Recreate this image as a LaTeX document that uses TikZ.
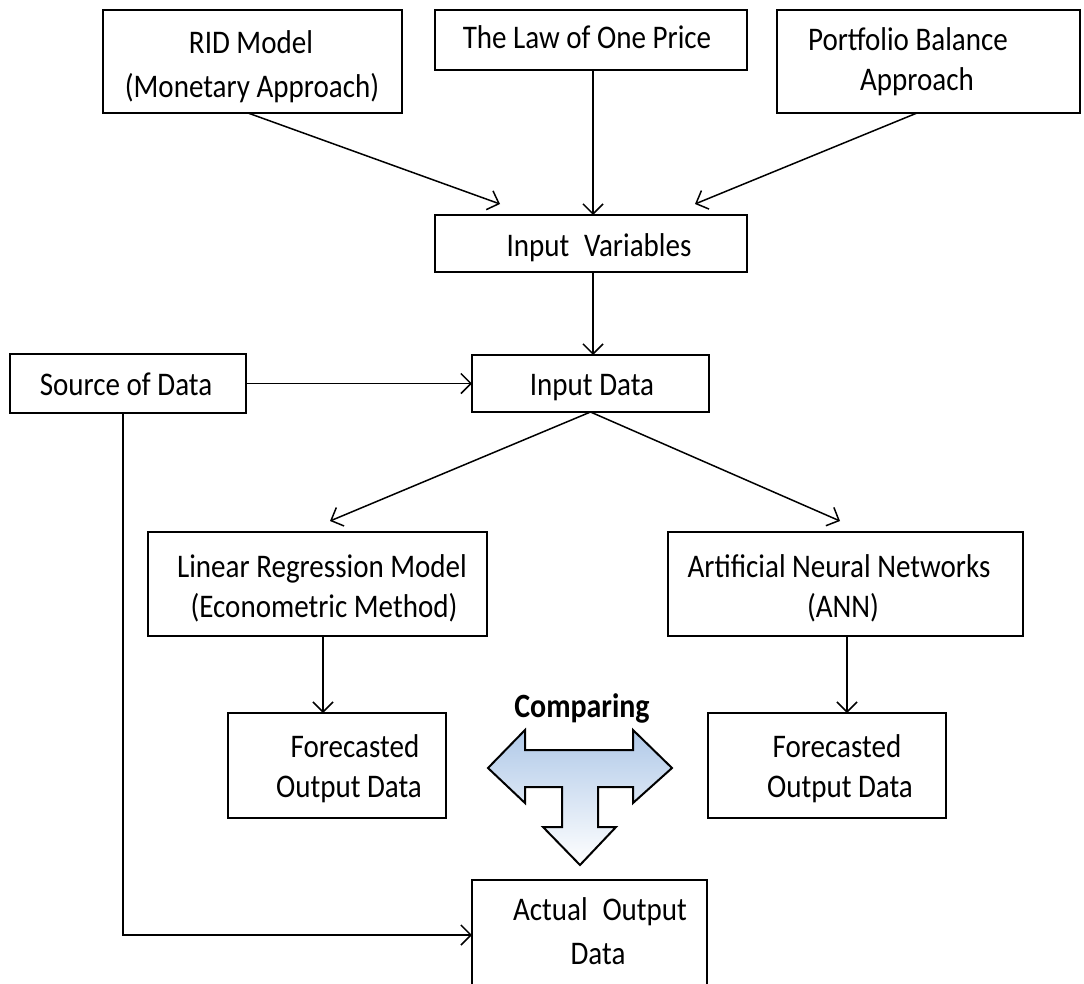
\documentclass[tikz,border=0pt]{standalone}
\usepackage{fontspec}
\setmainfont{Carlito}[FakeStretch=0.88]
\usetikzlibrary{arrows.meta,calc}
\begin{document}
\begin{tikzpicture}[x=1pt,y=-1pt,
  box/.style={draw=black,line width=2pt,fill=white,inner sep=0pt,outer sep=0pt},
  lbl/.style={font=\fontsize{33}{40}\selectfont,align=center,inner sep=0pt,anchor=base},
  arr/.style={draw=black,line width=1.5pt,-{Straight Barb[length=10pt,width=20pt,line width=1.5pt]}}]
\useasboundingbox[fill=white] (0,0) rectangle (1084,983);
% boxes
\node[box,minimum width=299pt,minimum height=103pt] (rid) at (252.5,61.5) {};
\node[box,minimum width=312pt,minimum height=60pt] (law) at (591,40) {};
\node[box,minimum width=303pt,minimum height=103pt] (pb) at (928.5,61.5) {};
\node[box,minimum width=312pt,minimum height=57pt] (iv) at (591,243.5) {};
\node[box,minimum width=236pt,minimum height=59pt] (src) at (128,383.5) {};
\node[box,minimum width=237pt,minimum height=57pt] (ind) at (590.5,383.5) {};
\node[box,minimum width=339pt,minimum height=104pt] (lr) at (317.5,584) {};
\node[box,minimum width=355pt,minimum height=104pt] (ann) at (845.5,584) {};
\node[box,minimum width=218pt,minimum height=105pt] (f1) at (337,765.5) {};
\node[box,minimum width=238pt,minimum height=105pt] (f2) at (827,765.5) {};
\node[box,minimum width=235pt,minimum height=110pt] (act) at (589.5,935) {};
% labels
\node[lbl] (ridt1) at (251,53) {RID Model};
\node[lbl] (ridt2) at (252,97) {(Monetary Approach)};
\node[lbl] (lawt) at (587,48) {The Law of One Price};
\node[lbl] (pbt1) at (908,50) {Portfolio Balance};
\node[lbl] (pbt2) at (917,90) {Approach};
\node[lbl] (ivt) at (599,256) {Input\hspace{0.45em}Variables};
\node[lbl] (srct) at (126,395) {Source of Data};
\node[lbl] (indt) at (592,395) {Input Data};
\node[lbl] (lrt1) at (322,577) {Linear Regression Model};
\node[lbl] (lrt2) at (324,617) {(Econometric Method)};
\node[lbl] (annt1) at (839,577) {Artificial Neural Networks};
\node[lbl] (annt2) at (843,617) {(ANN)};
\node[lbl] (f1t1) at (355,757) {Forecasted};
\node[lbl] (f1t2) at (349,797) {Output Data};
\node[lbl] (f2t1) at (837,757) {Forecasted};
\node[lbl] (f2t2) at (840,797) {Output Data};
\node[lbl] (actt1) at (600,920) {Actual\hspace{0.45em}Output};
\node[lbl] (actt2) at (598,964) {Data};
% connector end points
\coordinate (ridS) at (248,113);
\coordinate (ivL) at (500,204);
\coordinate (lawS) at (593,70);
\coordinate (ivT) at (593,215);
\coordinate (pbS) at (917,113);
\coordinate (ivR) at (695,204);
\coordinate (ivS) at (593,272);
\coordinate (indT) at (593,355);
\coordinate (lrT) at (330,521);
\coordinate (annT) at (840,521);
\coordinate (lrS) at (323,636);
\coordinate (f1T) at (323,713);
\coordinate (annS) at (847,636);
\coordinate (f2T) at (847,713);
\coordinate (srcS) at (123,413);
\draw[arr] (ridS) -- (ivL);
\draw[arr] (lawS) -- (ivT);
\draw[arr] (pbS) -- (ivR);
\draw[arr] (ivS) -- (indT);
\draw[arr] (src.east) -- (ind.west);
\draw[arr] (ind.south) -- (lrT);
\draw[arr] (ind.south) -- (annT);
\draw[arr] (lrS) -- (f1T);
\draw[arr] (annS) -- (f2T);
\draw[arr] (srcS) |- (act.west);
% comparing arrow
\shade[top color={rgb,255:red,176;green,201;blue,232},bottom color=white,draw=black,line width=2pt,line join=miter]
 (488,768) -- (525,730) -- (525,750) -- (633,750) -- (633,730) -- (672,768) -- (633,803) -- (633,787)
 -- (598,787) -- (598,827) -- (616,827) -- (580,865) -- (543,827) -- (562,827) -- (562,787)
 -- (525,787) -- (525,803) -- cycle;
\node[lbl,font=\fontsize{34}{40}\selectfont\bfseries] (cmp) at (582,717) {Comparing};
\end{tikzpicture}
\end{document}
